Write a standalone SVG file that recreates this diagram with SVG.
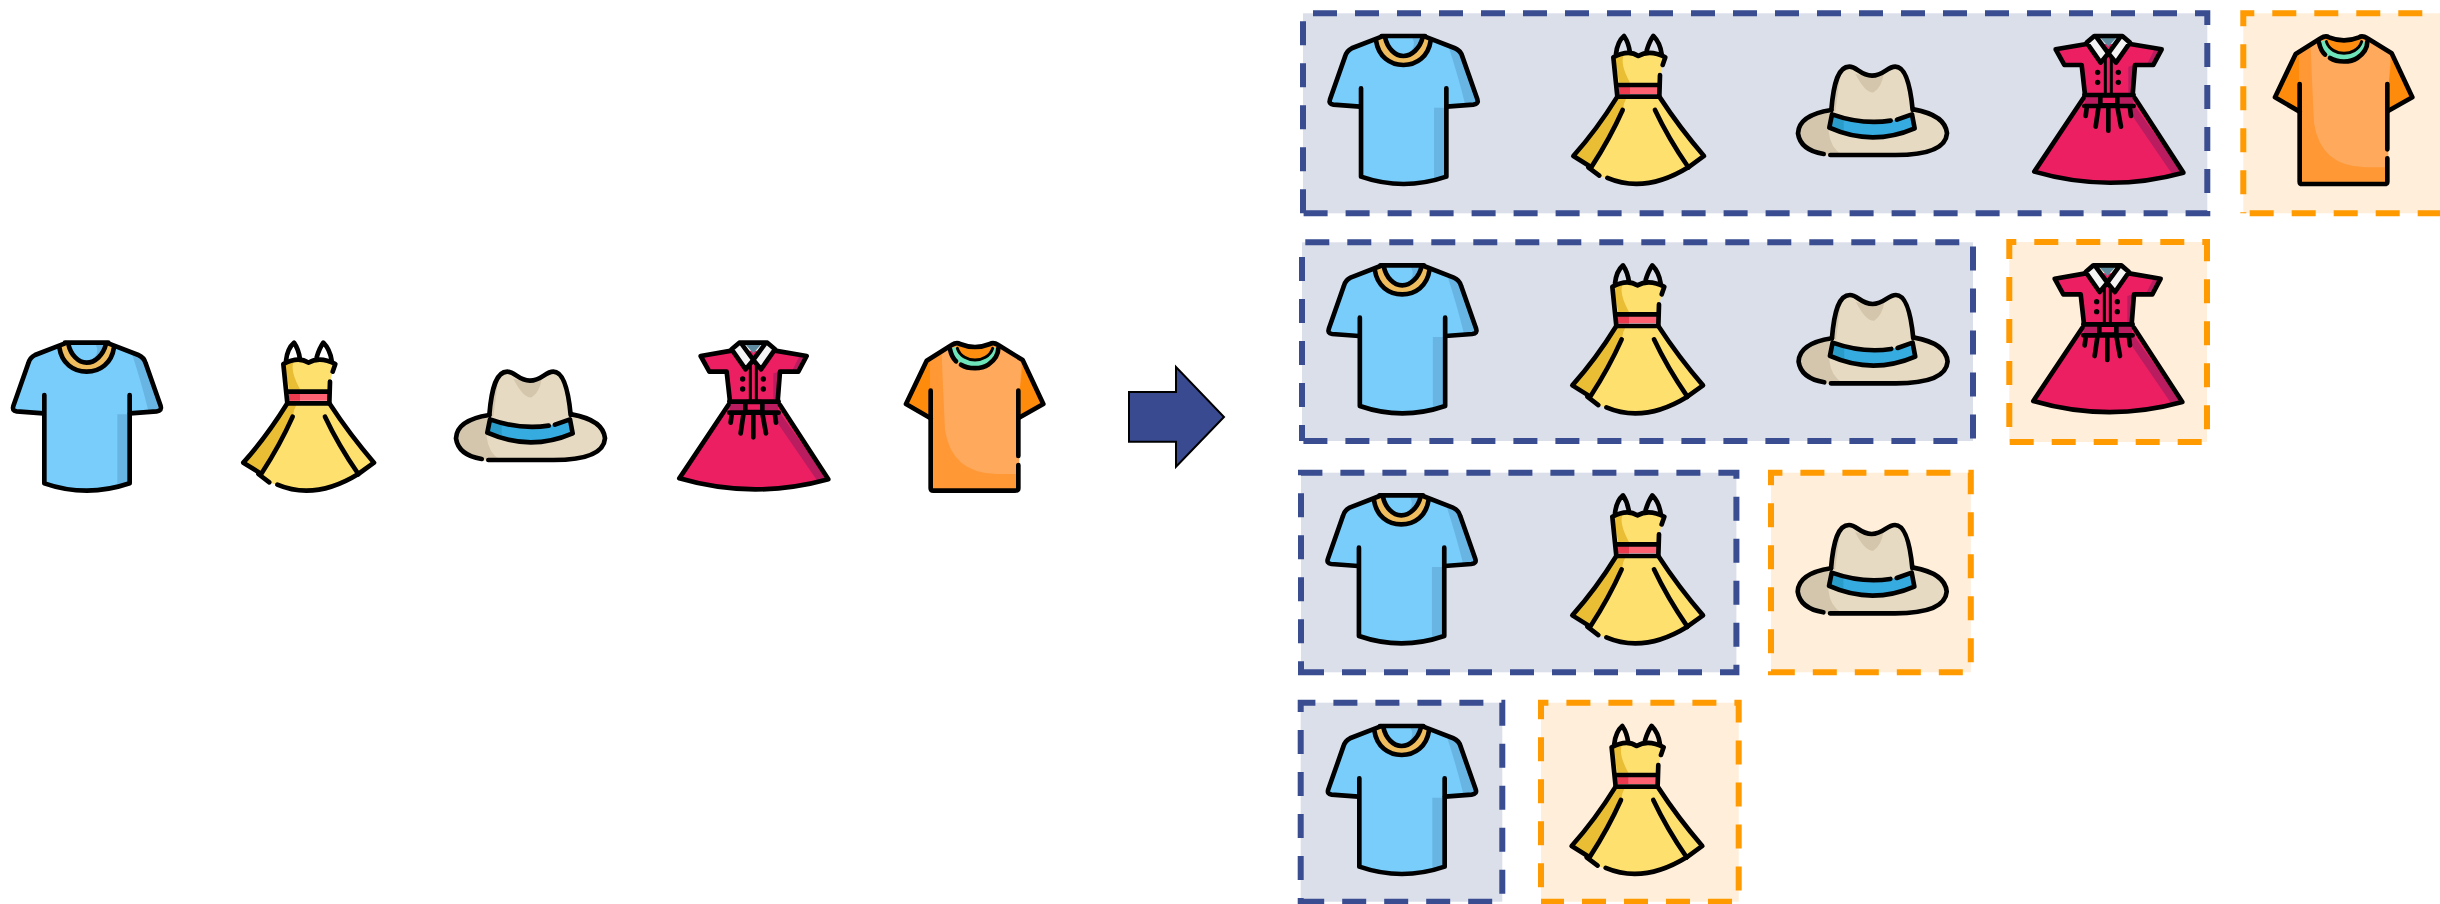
<svg xmlns="http://www.w3.org/2000/svg" width="2440" height="904" viewBox="0 0 2440 904">
<style>
.o{fill:none;stroke:#000;stroke-width:14;stroke-linecap:round;stroke-linejoin:round}
.t{stroke-width:9}
.pb{fill:#dbdfea;stroke:none}.po{fill:#ffeed9;stroke:none}
.db,.dr{fill:none;stroke-width:6;stroke-dasharray:24 18}
.db{stroke:#3a4d91}.dr{stroke:#ff9a00}
.n{stroke:none}
</style>
<defs>
<g id="tee" transform="scale(.33333)">
<path class="n" fill="#79cdfb" d="M130,280L50,274Q35,272 40,258L85,130Q90,112 105,105L195,70H325L415,105Q432,112 437,130L482,258Q487,272 470,274L390,280V490Q260,534 130,490Z"/>
<path class="n" fill="#68b5e3" d="M395,98L415,105Q432,112 437,130L482,258Q484,268 470,270L445,272Q425,190 395,98ZM352,283H390V490Q372,498 352,502Z"/>
<path class="n" fill="#f0bd5e" d="M178,82C185,130 220,155 260,155C300,155 335,130 342,82L318,72C310,105 285,128 260,128C235,128 212,105 205,72Z"/>
<path class="n" fill="#79cdfb" d="M205,72H318C310,105 285,128 260,128C235,128 212,105 205,72Z"/>
<path class="n" fill="#68b5e3" d="M285,72H318C310,100 292,120 268,127C292,110 298,90 285,72Z"/>
<path class="o" d="M130,280L50,274Q35,272 40,258L85,130Q90,112 105,105L195,70M325,70L415,105Q432,112 437,130L482,258Q487,272 470,274L390,280"/>
<path class="o" d="M195,68H325"/>
<path class="o" d="M133,225V490Q260,534 389,490V225"/>
<path class="o" d="M178,82C185,130 220,155 260,155C300,155 335,130 342,82M205,72C212,105 235,128 260,128C285,128 310,105 318,72"/>
</g>
<g id="dress" transform="scale(.33333)">
<path class="o" d="M858,122Q862,85 882,68Q896,88 900,118M950,112Q958,85 970,68Q990,88 995,122"/>
<path class="n" fill="#fee06f" d="M850,130Q895,108 925,128Q960,108 1005,130L990,185L988,215H862ZM862,248H988Q1050,345 1122,428L1075,462Q925,538 808,487L778,462L730,428Q800,350 862,248Z"/>
<path class="n" fill="#e9bd34" d="M852,130Q865,122 882,122Q868,150 900,208H868ZM862,248H892Q880,270 878,290Q840,375 785,460L730,428Q800,350 862,248Z"/>
<path class="n" fill="#fd6273" d="M866,220H986V242H866Z"/>
<path class="n" fill="#ec3a4e" d="M866,220H900V242H866Z"/>
<path class="o" d="M990,185L988,250H862L850,132Q895,108 925,128Q960,108 1006,132L998,155"/>
<path class="o" d="M864,215H988"/>
<path class="o" d="M862,250Q800,350 730,428L778,458M988,250Q1050,345 1122,428L1075,462"/>
<path class="o" d="M775,462L808,487M832,494Q945,542 1075,462"/>
<path class="o" d="M878,290Q840,375 785,460M975,290Q1015,375 1075,462"/>
</g>
<g id="hat" transform="scale(.33333)">
<path class="n" fill="#e6dac2" d="M178,285C185,200 200,155 232,155C255,155 265,182 300,182C335,182 345,155 370,155C400,155 415,210 422,285Q520,300 525,355Q520,420 370,422H160Q85,405 78,355Q80,300 178,285Z"/>
<path class="n" fill="#d4c6ac" d="M172,285Q80,300 78,355Q85,405 155,417L212,420Q175,400 170,350ZM250,176Q280,235 305,232Q330,215 335,176Q290,190 250,176ZM180,285Q190,200 205,175L190,290Z"/>
<path class="n" fill="#35abe0" d="M180,300Q270,330 358,317L420,300L428,340Q300,395 172,338Z"/>
<path class="n" fill="#2a9cca" d="M180,302L215,314V358L172,338Z"/>
<path class="o" d="M178,285C185,200 200,155 232,155C255,155 265,182 300,182C335,182 345,155 370,155C400,155 415,210 422,285"/>
<path class="o" d="M178,285Q80,300 78,355Q85,405 155,417M175,420H370Q520,420 525,355Q520,300 425,283"/>
<path class="o" d="M180,298Q270,330 356,317M375,314L420,298L428,340Q300,395 172,338L180,298"/>
</g>
<g id="red" transform="scale(.33333)">
<path class="n" fill="#ec1f63" d="M905,92L812,108L838,155H890L900,245L748,475Q970,540 1195,478L1045,245L1050,155H1105L1130,108L1035,92Z"/>
<path class="n" fill="#b91c5f" d="M1110,105L1130,108L1105,155H1085ZM1050,155L1030,160V238H1043ZM1052,282L1190,475L1165,487L1030,290ZM900,250H948V275H900ZM995,250H1044V275H995Z"/>
<path class="n" fill="#f4f4f4" d="M912,88L935,72L966,124L945,145ZM1028,88L1005,72L974,124L995,145Z"/>
<path class="n" fill="#5f8b9f" d="M945,72H995L970,100Z"/>
<path class="o" d="M905,92L812,108L838,155H890L900,245M1035,92L1130,108L1105,155H1050L1043,245"/>
<path class="o" d="M905,88L928,68H1012L1035,88L993,148L970,120L947,148ZM935,72L970,120L1005,72"/>
<path class="o t" d="M961,135V245M979,135V245"/>
<path class="o" d="M898,245H1046M898,278H1046"/>
<rect class="o" x="946" y="246" width="51" height="30" rx="6" fill="#ec1f63" style="fill:#ec1f63"/>
<path class="o" d="M895,255L748,475Q970,540 1195,478L1050,255"/>
<path class="o" d="M905,285L902,308M940,285L932,340M970,285V352M998,285L1008,340M1035,285L1038,308"/>
<circle cx="938" cy="177" r="8"/><circle cx="1000" cy="177" r="8"/><circle cx="938" cy="207" r="8"/><circle cx="1000" cy="207" r="8"/>
</g>
<g id="org" transform="scale(.33333)">
<path class="n" fill="#ff9835" d="M152,295L78,252L140,122L215,75Q230,65 240,72Q285,90 330,72Q340,65 355,75L428,120L490,252L415,293V505Q415,512 405,512H160Q152,512 152,505Z"/>
<path class="n" fill="#ff8b0c" d="M152,295L78,252L140,122L150,118V295ZM490,252L415,293V240L430,125Z"/>
<path class="n" fill="#fea95c" d="M185,102L215,80L355,80L425,122L420,200L418,290V462H350Q215,460 195,330Q190,230 185,102Z"/>
<path class="n" fill="#ff8e10" d="M232,75Q285,95 338,75L338,85C330,110 305,120 285,120C265,120 240,110 232,85Z"/>
<path class="n" fill="#6de4b9" d="M212,85L232,80C240,110 265,120 285,120C305,120 330,110 338,82L355,88C352,120 320,145 285,145C250,145 220,125 212,85Z"/>
<path class="o" d="M152,295L78,252L140,122L215,75Q230,65 240,72Q285,90 330,72Q340,65 355,75L428,120L490,252L417,293"/>
<path class="o" d="M152,212V505Q152,512 160,512H405Q415,512 415,505V435M415,212V408"/>
<path class="o" d="M210,88Q215,112 228,124M243,134C265,148 305,148 325,134C345,120 355,105 355,85"/>
<path class="o t" d="M232,85C240,110 265,120 285,120C305,120 330,110 338,85"/>
</g>
</defs>

<g id="connectors">
<path id="arrow" fill="#394a90" stroke="#000" stroke-width="2" d="M1129,392H1176V367L1224,417L1176,466.7V441.7H1129Z"/>
</g>

<g id="left-tee"><use href="#tee" transform="translate(0,320)"/></g>
<g id="left-dress"><use href="#dress" transform="translate(0,320)"/></g>
<g id="left-hat"><use href="#hat" transform="translate(430,320)"/></g>
<g id="left-red"><use href="#red" transform="translate(430,320)"/></g>
<g id="left-org"><use href="#org" transform="translate(880,320)"/></g>

<g id="row1-blue">
<rect class="pb" x="1303" y="13.3" width="904.3" height="200"/>
<path class="db" d="M1303,213.3V13.3H2207.3V213.3Z"/>
<use href="#tee" transform="translate(1316.7,13.3)"/>
<use href="#dress" transform="translate(1330,13.3)"/>
<use href="#hat" transform="translate(1772,15)"/>
<use href="#red" transform="translate(1785,13.3)"/>
</g>
<g id="row1-orange">
<rect class="po" x="2243.3" y="13.3" width="200" height="200"/>
<path class="dr" stroke-dashoffset="23" d="M2243.3,213.3V13.3H2446V213.3Z"/>
<use href="#org" transform="translate(2249,13.3)"/>
</g>

<g id="row2-blue">
<rect class="pb" x="1302" y="242.3" width="671" height="198.7"/>
<path class="db" stroke-dashoffset="8" d="M1302,441V242.3H1973V441Z"/>
<use href="#tee" transform="translate(1315.5,242.7)"/>
<use href="#dress" transform="translate(1329,242.7)"/>
<use href="#hat" transform="translate(1772.6,243.3)"/>
</g>
<g id="row2-orange">
<rect class="po" x="2009.3" y="242" width="197.7" height="200"/>
<path class="dr" stroke-dashoffset="27" d="M2009.3,442V242H2207V442Z"/>
<use href="#red" transform="translate(1784,242.7)"/>
</g>

<g id="row3-blue">
<rect class="pb" x="1301" y="472.7" width="435.4" height="199.6"/>
<path class="db" stroke-dashoffset="13" d="M1301,672.3V472.7H1736.4V672.3Z"/>
<use href="#tee" transform="translate(1314.6,472.7)"/>
<use href="#dress" transform="translate(1329,472.7)"/>
</g>
<g id="row3-orange">
<rect class="po" x="1771" y="472.7" width="199.8" height="199.6"/>
<path class="dr" stroke-dashoffset="23" d="M1771,672.3V472.7H1970.8V672.3Z"/>
<use href="#hat" transform="translate(1771.7,473.3)"/>
</g>

<g id="row4-blue">
<rect class="pb" x="1300.7" y="702.7" width="201.6" height="199"/>
<path class="db" stroke-dashoffset="20.3" d="M1300.7,901.7V702.7H1502.3V901.7Z"/>
<use href="#tee" transform="translate(1315,703.3)"/>
</g>
<g id="row4-orange">
<rect class="po" x="1541" y="702.7" width="197.7" height="199"/>
<path class="dr" stroke-dashoffset="27.6" d="M1541,901.7V702.7H1738.7V901.7Z"/>
<use href="#dress" transform="translate(1328.3,703.3)"/>
</g>
</svg>
